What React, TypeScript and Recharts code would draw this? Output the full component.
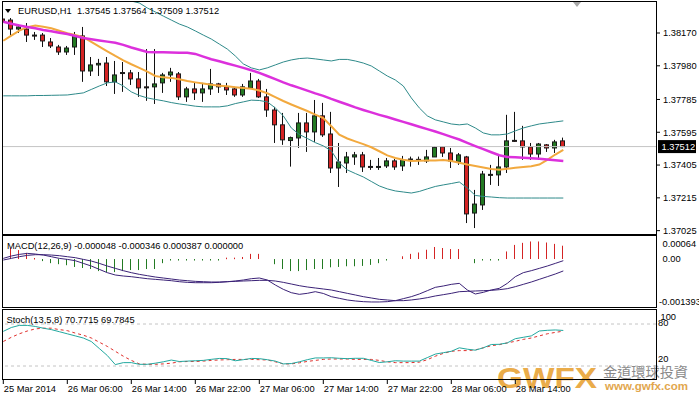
import React from 'react';
import { ComposedChart, Bar, Line, XAxis, YAxis, ReferenceLine } from 'recharts';

// ---------- DATA (EURUSD H1) ----------
const opens = [1.38251,1.38245,1.38193,1.38193,1.38158,1.38158,1.38118,1.38089,1.38060,1.38089,
1.38153,1.37950,1.37985,1.37996,1.37887,1.37936,1.37939,1.37904,1.37858,1.37858,
1.37881,1.37927,1.37933,1.37800,1.37846,1.37823,1.37846,1.37875,1.37858,1.37846,
1.37811,1.37852,1.37892,1.37800,1.37724,1.37638,1.37547,1.37562,1.37649,1.37597,
1.37690,1.37585,1.37388,1.37417,1.37452,1.37464,1.37397,1.37394,1.37400,1.37429,
1.37400,1.37438,1.37435,1.37429,1.37452,1.37510,1.37475,1.37423,1.37452,1.37127,
1.37174,1.37348,1.37348,1.37394,1.37548,1.37545,1.37510,1.37469,1.37522,1.37504,
1.37545];
const highs = [1.38268,1.38257,1.38222,1.38228,1.38176,1.38170,1.38141,1.38101,1.38095,1.38176,
1.38205,1.38031,1.38020,1.38031,1.38008,1.38002,1.37956,1.37944,1.38077,1.38077,
1.37939,1.37968,1.37944,1.37858,1.37881,1.37881,1.37962,1.37881,1.37881,1.37858,
1.37875,1.37939,1.37904,1.37846,1.37742,1.37707,1.37570,1.37707,1.37707,1.37782,
1.37765,1.37713,1.37533,1.37481,1.37481,1.37481,1.37435,1.37446,1.37446,1.37440,
1.37458,1.37454,1.37454,1.37493,1.37513,1.37513,1.37504,1.37475,1.37458,1.37261,
1.37371,1.37406,1.37464,1.37696,1.37713,1.37632,1.37533,1.37533,1.37527,1.37551,
1.37564];
const lows = [1.38222,1.38158,1.38170,1.38118,1.38130,1.38089,1.38083,1.38043,1.38043,1.38043,
1.37887,1.37921,1.37921,1.37863,1.37817,1.37829,1.37869,1.37800,1.37777,1.37759,
1.37823,1.37887,1.37782,1.37771,1.37782,1.37771,1.37811,1.37823,1.37811,1.37800,
1.37800,1.37846,1.37794,1.37684,1.37533,1.37522,1.37396,1.37504,1.37481,1.37539,
1.37568,1.37359,1.37278,1.37359,1.37406,1.37365,1.37377,1.37377,1.37388,1.37377,
1.37371,1.37396,1.37406,1.37417,1.37452,1.37452,1.37388,1.37406,1.37069,1.37040,
1.37145,1.37290,1.37284,1.37359,1.37539,1.37435,1.37435,1.37435,1.37481,1.37475,
1.37509];
const closes = [1.38234,1.38193,1.38205,1.38158,1.38155,1.38124,1.38095,1.38060,1.38083,1.38153,
1.37950,1.37985,1.37994,1.37887,1.37927,1.37941,1.37904,1.37852,1.37855,1.37875,
1.37927,1.37944,1.37800,1.37846,1.37823,1.37846,1.37875,1.37858,1.37840,1.37811,
1.37858,1.37892,1.37800,1.37724,1.37638,1.37551,1.37564,1.37649,1.37597,1.37690,
1.37580,1.37388,1.37423,1.37452,1.37464,1.37394,1.37394,1.37397,1.37429,1.37394,
1.37435,1.37440,1.37438,1.37452,1.37507,1.37475,1.37429,1.37464,1.37122,1.37179,
1.37353,1.37351,1.37394,1.37545,1.37545,1.37510,1.37469,1.37527,1.37504,1.37539,
1.37512];

const maFast = [1.38125,1.38155,1.38184,1.38204,1.38214,1.38206,1.38197,1.38183,1.38169,1.38158,
1.38146,1.38118,1.38091,1.38064,1.38037,1.38012,1.37989,1.37968,1.37946,1.37921,
1.37913,1.37910,1.37902,1.37892,1.37884,1.37877,1.37870,1.37865,1.37861,1.37856,
1.37852,1.37847,1.37837,1.37821,1.37798,1.37776,1.37756,1.37737,1.37718,1.37697,
1.37677,1.37630,1.37581,1.37559,1.37542,1.37526,1.37508,1.37485,1.37461,1.37446,
1.37436,1.37429,1.37430,1.37431,1.37432,1.37434,1.37429,1.37418,1.37408,1.37400,
1.37391,1.37382,1.37378,1.37383,1.37389,1.37394,1.37398,1.37408,1.37435,1.37466,
1.37493];
const maSlow = [1.38235,1.38224,1.38214,1.38205,1.38197,1.38187,1.38180,1.38172,1.38164,1.38153,
1.38141,1.38134,1.38127,1.38120,1.38113,1.38101,1.38086,1.38073,1.38060,1.38059,
1.38058,1.38057,1.38056,1.38055,1.38049,1.38033,1.38018,1.38006,1.37993,1.37981,
1.37968,1.37954,1.37939,1.37921,1.37903,1.37884,1.37867,1.37852,1.37836,1.37820,
1.37806,1.37788,1.37772,1.37756,1.37739,1.37724,1.37710,1.37696,1.37683,1.37669,
1.37655,1.37641,1.37627,1.37613,1.37599,1.37584,1.37568,1.37553,1.37534,1.37515,
1.37497,1.37479,1.37462,1.37452,1.37450,1.37448,1.37445,1.37441,1.37437,1.37433,
1.37429];
const bbUpper = [1.38535,1.38523,1.38512,1.38506,1.38494,1.38483,1.38477,1.38471,1.38465,1.38448,
1.38436,1.38425,1.38413,1.38402,1.38390,1.38373,1.38355,1.38344,1.38315,1.38292,
1.38268,1.38245,1.38222,1.38205,1.38182,1.38158,1.38135,1.38106,1.38077,1.38037,
1.37991,1.37968,1.37956,1.37968,1.37985,1.38002,1.38014,1.38022,1.38025,1.38020,
1.38014,1.38008,1.38017,1.38017,1.38008,1.37996,1.37979,1.37950,1.37921,1.37898,
1.37863,1.37794,1.37736,1.37690,1.37667,1.37655,1.37643,1.37638,1.37643,1.37620,
1.37591,1.37580,1.37580,1.37585,1.37603,1.37620,1.37632,1.37643,1.37649,1.37655,
1.37661];
const bbLower = [1.37806,1.37806,1.37806,1.37806,1.37808,1.37808,1.37809,1.37810,1.37811,1.37817,
1.37823,1.37843,1.37863,1.37881,1.37887,1.37863,1.37829,1.37808,1.37794,1.37785,
1.37777,1.37767,1.37759,1.37753,1.37746,1.37742,1.37742,1.37742,1.37748,1.37761,
1.37771,1.37781,1.37779,1.37771,1.37736,1.37690,1.37620,1.37582,1.37559,1.37535,
1.37516,1.37487,1.37417,1.37377,1.37356,1.37336,1.37310,1.37284,1.37267,1.37255,
1.37249,1.37243,1.37252,1.37267,1.37281,1.37290,1.37298,1.37307,1.37272,1.37229,
1.37223,1.37220,1.37216,1.37214,1.37214,1.37214,1.37214,1.37214,1.37214,1.37214,
1.37214];

const macdMain = [0.000019,0.000087,0.000135,0.000164,0.000145,0.000116,0.000068,0.000019,-0.00001,-0.000048,
-0.000126,-0.000203,-0.0003,-0.000396,-0.000464,-0.000493,-0.000513,-0.000542,-0.000571,-0.00059,
-0.000609,-0.000629,-0.000658,-0.000677,-0.000687,-0.000687,-0.000687,-0.000677,-0.000658,-0.000638,
-0.000609,-0.000571,-0.000551,-0.000609,-0.000754,-0.00088,-0.000977,-0.001025,-0.000996,-0.000948,
-0.001,-0.001093,-0.001141,-0.001189,-0.001218,-0.001238,-0.001247,-0.001247,-0.001238,-0.001209,
-0.001151,-0.001093,-0.001015,-0.000919,-0.000822,-0.000783,-0.000735,-0.000706,-0.000899,-0.001015,
-0.000967,-0.000899,-0.000851,-0.000706,-0.000513,-0.000396,-0.000338,-0.000271,-0.000203,-0.000126,
-0.000048];
const macdSignal = [-0.000029,0.000019,0.000068,0.000106,0.000126,0.000126,0.000116,0.000097,0.000068,0.000039,
-0.00001,-0.000058,-0.000126,-0.000203,-0.000271,-0.000338,-0.000396,-0.000445,-0.000484,-0.000522,
-0.000551,-0.00058,-0.000609,-0.000629,-0.000648,-0.000658,-0.000667,-0.000667,-0.000658,-0.000648,
-0.000638,-0.000629,-0.000619,-0.000619,-0.000638,-0.000677,-0.000725,-0.000774,-0.000812,-0.000841,
-0.00087,-0.000899,-0.000948,-0.000996,-0.001044,-0.001093,-0.001131,-0.00117,-0.001189,-0.001209,
-0.001209,-0.001189,-0.00116,-0.001122,-0.001073,-0.001035,-0.000996,-0.000948,-0.000938,-0.000928,
-0.000919,-0.000909,-0.00089,-0.000861,-0.000803,-0.000735,-0.000667,-0.00059,-0.000513,-0.000435,
-0.000346];
const macdHist = [0.00044,0.00032,0.00026,0.00018,0.00003,-0.00006,-0.00012,-0.00015,-0.00018,-0.00023,
-0.00026,-0.00029,-0.00035,-0.00038,-0.00038,-0.00035,-0.00032,-0.00032,-0.00029,-0.00029,
-0.00012,-0.00004,-0.00004,-0.00004,-0.00004,-0.00004,-0.00004,-0.00004,0.00004,0.00004,
0.00006,0.00015,0.00015,0,-0.00015,-0.00029,-0.00035,-0.00035,-0.00032,-0.00029,
-0.00029,-0.00024,-0.00023,-0.00021,-0.00021,-0.0002,-0.00017,-0.00012,-0.00004,0,
0.00008,0.00015,0.00019,0.00027,0.00035,0.00032,0.00029,0.00029,0,-0.00012,
-0.00004,-0.00004,-0.00004,0.00022,0.00041,0.00047,0.00051,0.00051,0.00048,0.00044,
0.000387];

const stochMain = [69.5,75,78,78,76.5,74,72,69,66,63,
60,55,45,35,22,24.8,24.8,22.4,22.4,24,
26,28.5,26.4,27,27.5,28,29.5,30.8,30.5,27.5,
29,30.8,30.5,29,27,23,23.5,26,29,31.5,
31.5,31.8,31,30.5,31,31,28,25,26,27.5,
27,27,27,32,37,39,41,46,44,42.6,
46,50.7,51,53,59,61,63,70,71,71.5,
70.7715];
const stochSignal = [55,61,66,70,73,74,74,72,70.5,67,
64,60,54,48,41,34,28,23,22.4,22.4,
23,24,26,26.4,26.4,27,28,28.6,29,29.4,
29.4,29.4,29,28.6,26,23,23,24.5,26.5,28,
29.4,30,30,30,29.4,29.4,29.4,28,26,24.8,
24.8,24.8,25.5,29,34,38,41,42,42,43,
46,49,50.5,53,55.3,58,60,63,66,68,
69.7845];

const priceTicks = [1.37025, 1.37215, 1.37405, 1.37595, 1.37785, 1.3798, 1.3817];
const macdTicks = [0.00064, 0, -0.001393];
const macdTickLabels = ['0.00064', '0.00', '-0.001393'];
const stochTicks = [100, 80, 20];
const stochLevels = [80, 20];
const xTickIdx = [0, 8, 16, 24, 32, 40, 48, 56, 64];
const xTickLabels = ['25 Mar 2014', '26 Mar 06:00', '26 Mar 14:00', '26 Mar 22:00', '27 Mar 06:00', '27 Mar 14:00', '27 Mar 22:00', '28 Mar 06:00', '28 Mar 14:00'];
const symbol = 'EURUSD,H1';

// ---------- BUILD ----------
const last = closes.length - 1;
const currentPrice = closes[last];
const data = opens.map((o, i) => ({
  i,
  open: o, high: highs[i], low: lows[i], close: closes[i],
  range: [lows[i], highs[i]],
  maFast: maFast[i], maSlow: maSlow[i], bbUp: bbUpper[i], bbLo: bbLower[i],
  macd: macdMain[i], signal: macdSignal[i], hist: macdHist[i],
  k: stochMain[i], d: stochSignal[i],
}));

const X_DOMAIN: [number, number] = [-0.1625, 81.5875];
const FONT = 'Liberation Sans, Arial, sans-serif';
const FS = 9.3;
const RED = '#D42424';
const GREEN = '#237A23';

const Candle = (props: any) => {
  const { x, y, width, height, payload } = props;
  if (x == null || !payload) return null;
  const { open, close, high, low } = payload;
  const yTop = Math.min(y, y + height);
  const yBot = Math.max(y, y + height);
  const span = high - low || 1;
  const py = (v: number) => yTop + ((high - v) / span) * (yBot - yTop);
  const cx = Math.floor(x + width / 2) + 0.5;
  const yo = py(open), yc = py(close);
  const top = Math.min(yo, yc);
  const bh = Math.max(Math.abs(yc - yo), 1);
  const bull = close >= open;
  return (
    <g>
      <line x1={cx} x2={cx} y1={yTop} y2={yBot} stroke="#111" strokeWidth={1} />
      <rect x={cx - 2} y={top} width={4} height={bh} fill={bull ? GREEN : RED} stroke="#1a1a1a" strokeWidth={1} />
    </g>
  );
};

const HistBar = (props: any) => {
  const { x, y, width, height, payload } = props;
  if (x == null || !payload || !payload.hist) return null;
  const cx = Math.floor(x + width / 2) + 0.5;
  const y1 = Math.min(y, y + height);
  const y2 = Math.max(y, y + height);
  return <line x1={cx} x2={cx} y1={y1} y2={Math.max(y2, y1 + 1.5)} stroke={payload.hist > 0 ? RED : GREEN} strokeWidth={1} />;
};

const PriceTag = (props: any) => {
  const vb = props.viewBox || {};
  const x = (vb.x || 0) + (vb.width || 0);
  const y = vb.y || 0;
  return (
    <g>
      <rect x={x + 2} y={y - 6.5} width={38} height={13} fill="#000" />
      <text x={x + 5.5} y={y} dy="0.35em" fill="#fff" fontSize={FS} fontFamily={FONT}>{currentPrice.toFixed(5)}</text>
    </g>
  );
};

const MacdTick = (props: any) => {
  const { x, y, payload } = props;
  const idx = macdTicks.indexOf(payload.value);
  const dx = [6.5, 6.5, 3][idx] ?? 6;
  const dy = [7, 0, -5.3][idx] ?? 0;
  return <text x={x + dx} y={y + dy} dy="0.35em" fontSize={FS} fill="#000" fontFamily={FONT}>{macdTickLabels[idx]}</text>;
};

const StochTick = (props: any) => {
  const { x, y, payload } = props;
  const v = payload.value;
  const dx = v === 100 ? 4.5 : 2;
  const dy = v === 100 ? 6.5 : v === 80 ? -1 : -7;
  return <text x={x + dx} y={y + dy} dy="0.35em" fontSize={FS} fill="#000" fontFamily={FONT}>{String(v)}</text>;
};

const XTick = (props: any) => {
  const { x, y, payload } = props;
  const idx = xTickIdx.indexOf(payload.value);
  return <text x={x + 0.5} y={y} dy="0.71em" fontSize={FS} fill="#000" fontFamily={FONT}>{xTickLabels[idx]}</text>;
};

const border = (top: number, height: number): React.CSSProperties => ({
  position: 'absolute', left: 2, top, width: 655, height, border: '1px solid #000', boxSizing: 'border-box', pointerEvents: 'none',
});

export default function App() {
  const header = `${symbol}  ${opens[last].toFixed(5)} ${highs[last].toFixed(5)} ${lows[last].toFixed(5)} ${closes[last].toFixed(5)}`;
  const macdLabel = `MACD(12,26,9) ${macdMain[last].toFixed(6)} ${macdSignal[last].toFixed(6)} ${macdHist[last].toFixed(6)} 0.000000`;
  const stochLabel = `Stoch(13,5,8) ${stochMain[last].toFixed(4)} ${stochSignal[last].toFixed(4)}`;
  return (
    <div style={{ position: 'absolute', left: 0, top: 0, width: 699, height: 398, background: '#fff', overflow: 'hidden', fontFamily: FONT }}>
      {/* logo watermark (behind) */}
      <svg width={699} height={398} style={{ position: 'absolute', left: 0, top: 0 }}>
        <g opacity={0.92}>
          <text x={497} y={388} fontSize={30} fontWeight="bold" fill="#E9A53B" textLength={100} lengthAdjust="spacingAndGlyphs" fontFamily={FONT}>GWFX</text>
          <text x={603} y={377} fontSize={14} fill="#7f7f7f" textLength={85} lengthAdjust="spacingAndGlyphs" fontFamily="Noto Sans CJK TC">金道環球投資</text>
          <text x={605} y={390} fontSize={10.5} fontWeight="bold" fill="#DFA03E" textLength={83} lengthAdjust="spacingAndGlyphs" fontFamily={FONT}>www.gwfx.com</text>
        </g>
      </svg>

      {/* price panel */}
      <div style={{ position: 'absolute', left: 0, top: 0 }}>
        <ComposedChart width={699} height={236} data={data} margin={{ top: 2, right: 0, bottom: 2, left: 2 }}>
          <XAxis type="number" dataKey="i" domain={X_DOMAIN} hide allowDataOverflow />
          <YAxis orientation="right" domain={[1.370056, 1.383496]} allowDataOverflow ticks={priceTicks} interval={0}
            width={43} axisLine={false} tickSize={4} tickMargin={3} tickLine={{ stroke: '#000' }}
            tick={{ fill: '#000', fontSize: FS, fontFamily: FONT }} tickFormatter={(v: number) => v.toFixed(5)} />
          <ReferenceLine y={currentPrice} stroke="#C4C4C4" strokeWidth={1} label={PriceTag} />
          <Bar dataKey="range" barSize={5} shape={Candle} isAnimationActive={false} />
          <Line type="linear" dataKey="bbUp" stroke="#2E8A8A" strokeWidth={1} dot={false} activeDot={false} isAnimationActive={false} />
          <Line type="linear" dataKey="bbLo" stroke="#2E8A8A" strokeWidth={1} dot={false} activeDot={false} isAnimationActive={false} />
          <Line type="linear" dataKey="maFast" stroke="#F2A93E" strokeWidth={2} dot={false} activeDot={false} isAnimationActive={false} />
          <Line type="linear" dataKey="maSlow" stroke="#DC30DC" strokeWidth={2.5} dot={false} activeDot={false} isAnimationActive={false} />
        </ComposedChart>
      </div>

      {/* MACD panel */}
      <div style={{ position: 'absolute', left: 0, top: 236 }}>
        <ComposedChart width={699} height={71} data={data} margin={{ top: 1, right: 0, bottom: 0, left: 2 }}>
          <XAxis type="number" dataKey="i" domain={X_DOMAIN} hide allowDataOverflow />
          <YAxis orientation="right" domain={[-0.001393, 0.00064]} allowDataOverflow ticks={macdTicks} interval={0}
            width={43} axisLine={false} tickLine={false} tickSize={0} tickMargin={0} tick={MacdTick} />
          <Bar dataKey="hist" barSize={1} shape={HistBar} isAnimationActive={false} />
          <Line type="linear" dataKey="signal" stroke="#3B2277" strokeWidth={1} dot={false} activeDot={false} isAnimationActive={false} />
          <Line type="linear" dataKey="macd" stroke="#3B2277" strokeWidth={1} dot={false} activeDot={false} isAnimationActive={false} />
        </ComposedChart>
      </div>

      {/* Stochastic panel */}
      <div style={{ position: 'absolute', left: 0, top: 309 }}>
        <ComposedChart width={699} height={89} data={data} margin={{ top: 1, right: 0, bottom: 0, left: 2 }}>
          <XAxis type="number" dataKey="i" domain={X_DOMAIN} allowDataOverflow ticks={xTickIdx} interval={0}
            height={18} axisLine={false} tickSize={4} tickMargin={1} tickLine={{ stroke: '#000' }} tick={XTick} />
          <YAxis orientation="right" domain={[0, 100]} allowDataOverflow ticks={stochTicks} interval={0}
            width={43} axisLine={false} tickLine={false} tickSize={0} tickMargin={0} tick={StochTick} />
          {stochLevels.map((lv) => (
            <ReferenceLine key={lv} y={lv} stroke="#C4C4C4" strokeDasharray="3 3" />
          ))}
          <Line type="linear" dataKey="d" stroke="#E0302C" strokeWidth={1} strokeDasharray="3 3" dot={false} activeDot={false} isAnimationActive={false} />
          <Line type="linear" dataKey="k" stroke="#22A89F" strokeWidth={1} dot={false} activeDot={false} isAnimationActive={false} />
        </ComposedChart>
      </div>

      {/* panel frames */}
      <div style={border(1, 234)} />
      <div style={border(235, 73)} />
      <div style={border(309, 71)} />

      {/* text overlays */}
      <svg width={699} height={398} style={{ position: 'absolute', left: 0, top: 0, pointerEvents: 'none' }}>
        <polygon points="5,9 11,9 8,13" fill="#000" />
        <text x={18} y={14} fontSize={FS} fill="#000" fontFamily={FONT} style={{ whiteSpace: 'pre' }}>{header}</text>
        <text x={7} y={249} fontSize={FS} fill="#000" fontFamily={FONT} style={{ whiteSpace: 'pre' }}>{macdLabel}</text>
        <text x={6.5} y={322.5} fontSize={FS} fill="#000" fontFamily={FONT} style={{ whiteSpace: 'pre' }}>{stochLabel}</text>
        <polygon points="573,2 581,2 577,7" fill="#A8A8A8" />
      </svg>
    </div>
  );
}
